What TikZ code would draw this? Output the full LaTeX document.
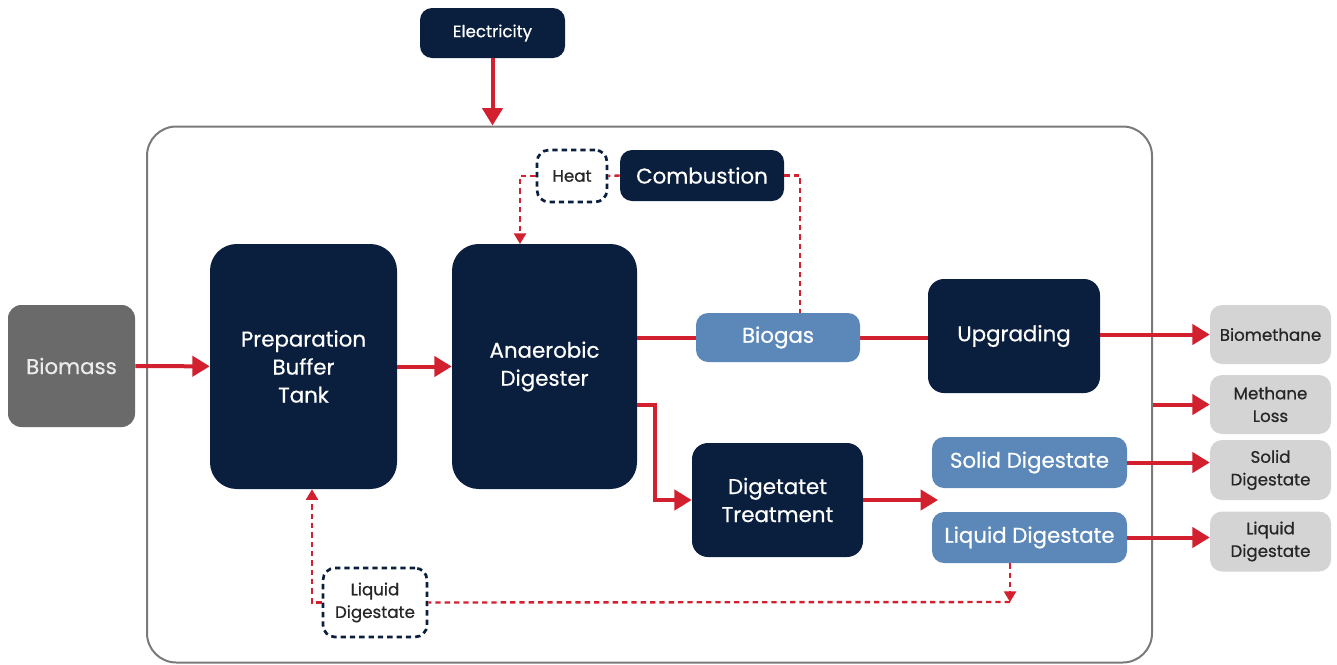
\documentclass[tikz,border=0pt]{standalone}
\usepackage{fontspec}
\setmainfont{Poppins}[FakeBold=0.6]
\usetikzlibrary{arrows.meta, positioning, calc}

\definecolor{navy}{RGB}{10,30,62}
\definecolor{steel}{RGB}{91,136,184}
\definecolor{stone}{RGB}{106,106,106}
\definecolor{mist}{RGB}{212,212,212}
\definecolor{flowred}{RGB}{210,32,47}
\definecolor{framegray}{RGB}{122,122,122}

\tikzset{
  box/.style={inner sep=0pt, align=center, font=\fontsize{16}{21}\selectfont},
  darkbox/.style={box, fill=navy, text=white, rounded corners=20pt},
  smalldark/.style={box, fill=navy, text=white, rounded corners=9pt},
  bluebox/.style={box, fill=steel, text=white, rounded corners=9pt},
  outbox/.style={box, fill=mist, text=black!85, rounded corners=9pt, font=\fontsize{12.5}{17}\selectfont},
  dashbox/.style={box, draw=navy, line width=2pt, dash pattern=on 4pt off 3pt, rounded corners=9pt, font=\fontsize{12.5}{17}\selectfont, text=black!85},
  flow/.style={draw=flowred, line width=3pt, -{Triangle[length=13pt,width=15pt]}},
  plainflow/.style={draw=flowred, line width=3pt},
  loopline/.style={draw=flowred, line width=1.8pt, dash pattern=on 4pt off 3pt},
}

\begin{document}
\begin{tikzpicture}[x=0.75pt, y=-0.75pt]
  \useasboundingbox (0,0) rectangle (1337,664);

  % frame of the plant
  \node[draw=framegray, line width=1.5pt, rounded corners=22pt, minimum width=753.75pt, minimum height=402pt] (frame) at (649.5,394.5) {};

  % process units
  \node[smalldark, minimum width=108.75pt, minimum height=37.5pt, font=\fontsize{12.5}{17}\selectfont] (elec) at (492.5,33) {Electricity};
  \node[box, fill=stone, text=white!92!black, rounded corners=10pt, minimum width=95.25pt, minimum height=91.5pt] (bio) at (71.5,366) {Biomass};
  \node[darkbox, minimum width=140.25pt, minimum height=183.75pt] (prep) at (303.5,366.5) {Preparation\\Buffer\\Tank};
  \node[darkbox, minimum width=138.75pt, minimum height=183.75pt] (ad) at (544.5,366.5) {Anaerobic\\Digester};
  \node[dashbox, minimum width=52.5pt, minimum height=39pt] (heat) at (572,176) {Heat};
  \node[smalldark, minimum width=123pt, minimum height=38.25pt] (comb) at (702,175.5) {Combustion};
  \node[darkbox, rounded corners=12pt, minimum width=129pt, minimum height=85.5pt] (upg) at (1014,336) {Upgrading};
  \node[darkbox, rounded corners=12pt, minimum width=128.25pt, minimum height=85.5pt] (dt) at (777.5,500) {Digetatet\\Treatment};
  \node[bluebox, minimum width=146.25pt, minimum height=38.25pt] (sdig) at (1029.5,462.5) {Solid Digestate};
  \node[bluebox, minimum width=146.25pt, minimum height=38.25pt] (ldig) at (1029.5,537.5) {Liquid Digestate};
  \node[dashbox, minimum width=78pt, minimum height=51.75pt] (ldbox) at (375,602.5) {Liquid\\Digestate};

  % biogas line runs behind the biogas node
  \draw[plainflow] (ad.east |- 0,337.5) -- (upg.west |- 0,337.5);
  \node[bluebox, minimum width=123pt, minimum height=36.75pt] (biogas) at (778,337.5) {Biogas};

  % outputs
  \node[outbox, minimum width=90.75pt, minimum height=44.25pt] (bmeth) at (1270.5,334.5) {Biomethane};
  \node[outbox, minimum width=90.75pt, minimum height=44.25pt] (mloss) at (1270.5,404.5) {Methane\\Loss};
  \node[outbox, minimum width=90.75pt, minimum height=45pt] (gsdig) at (1270.5,470) {Solid\\Digestate};
  \node[outbox, minimum width=90.75pt, minimum height=45pt] (gldig) at (1270.5,541.5) {Liquid\\Digestate};

  \coordinate (adout) at (637,405);
  \coordinate (dtend) at (938,500);
  \coordinate (bgtop) at (800,313);
  \coordinate (adtop) at (520,244);
  \coordinate (ldend) at (1010,602);

  % main flows
  \draw[flow] (elec) -- (elec |- frame.north);
  \draw[flow] (bio) -- (prep);
  \draw[flow] (prep) -- (ad);
  \draw[flow] (upg.east |- bmeth) -- (bmeth.west);
  \draw[flow] (frame.east |- mloss) -- (mloss.west);
  \draw[flow] (sdig.east) -- (sdig.east -| gsdig.west);
  \draw[flow] (ldig.east) -- (ldig.east -| gldig.west);
  \draw[flow] (adout) -- ++(18,0) |- (dt.west);
  \draw[flow] (dt.east) -- (dtend);

  % heat and recirculation loops
  \draw[loopline] (comb.east) -| (bgtop);
  \draw[loopline] (comb.west) -- (heat.east);
  \draw[loopline, -{Triangle[length=8pt,width=9pt]}] (heat.west) -| (adtop);
  \draw[loopline, -{Triangle[length=8pt,width=9pt]}] (ldig.south -| ldend) -- (ldend);
  \draw[loopline] (ldend) -- (ldbox.east);
  \draw[loopline, -{Triangle[length=8pt,width=9pt]}] (ldbox.west) -| (prep.south -| 312,0);
\end{tikzpicture}
\end{document}
